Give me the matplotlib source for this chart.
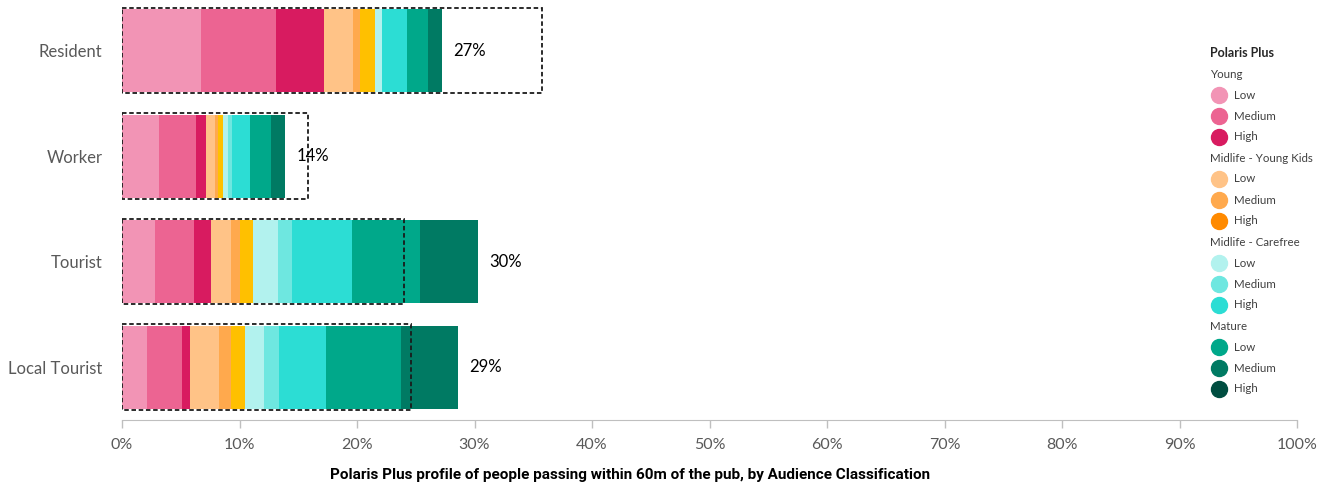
import matplotlib.pyplot as plt
import numpy as np
from matplotlib.lines import Line2D
from matplotlib.patches import Rectangle

plt.rcParams['font.family'] = ['Lato', 'DejaVu Sans']

categories = ["Resident", "Worker", "Tourist", "Local Tourist"]
groups = ["Young", "Midlife - Young Kids", "Midlife - Carefree", "Mature"]
levels = ["Low", "Medium", "High"]

# share of people (%) in each Polaris Plus segment, per audience
young_low = [6.70, 3.15, 2.81, 2.10]
young_med = [6.41, 3.15, 3.32, 3.01]
young_high = [4.12, 0.87, 1.47, 0.68]
kids_low = [2.46, 0.72, 1.68, 2.44]
kids_med = [0.59, 0.26, 0.76, 1.02]
kids_high = [1.25, 0.45, 1.08, 1.24]
free_low = [0.62, 0.45, 2.13, 1.60]
free_med = [0.00, 0.31, 1.24, 1.27]
free_high = [2.13, 1.53, 5.11, 4.00]
mature_low = [1.79, 1.79, 5.76, 6.38]
mature_med = [1.19, 1.22, 4.96, 4.88]
mature_high = [0.0, 0.0, 0.0, 0.0]
# dashed outline (comparison value, %)
benchmark = [35.72, 15.86, 24.03, 24.60]

series = [young_low, young_med, young_high, kids_low, kids_med, kids_high,
          free_low, free_med, free_high, mature_low, mature_med, mature_high]
bar_colors = ["#F294B5", "#EC6492", "#D81B60", "#FFC387", "#FFA94D", "#FFC000",
              "#B2F2EE", "#6EE7E0", "#2CDDD4", "#00A88A", "#007A63", "#004D40"]
legend_colors = ["#F294B5", "#EC6492", "#D81B60", "#FFC387", "#FFA94D", "#FF8A00",
                 "#B2F2EE", "#6EE7E0", "#2CDDD4", "#00A88A", "#007A63", "#004D40"]

W, H = 1335, 486
fig = plt.figure(figsize=(W / 100, H / 100), dpi=100)
ax = fig.add_axes([122 / W, 1 - 420 / H, 1175 / W, 420 / H])

y = np.arange(len(categories))
left = np.zeros(len(categories))
for vals, col in zip(series, bar_colors):
    ax.barh(y, vals, left=left, height=0.787, color=col, edgecolor='none')
    left += np.array(vals)

for i, b in enumerate(benchmark):
    ax.add_patch(Rectangle((0, i - 0.405), b, 0.81, fill=False, edgecolor='#1a1a1a',
                           linestyle=(0, (2.5, 1.5)), linewidth=1.3, zorder=5))

for i, tot in enumerate(left):
    ax.text(tot + 0.95, i, f"{round(tot)}%", va='center', ha='left', fontsize=12, color='black', zorder=6)

ax.set_xlim(0, 100)
ax.set_ylim(3.5, -0.479)
ax.set_xticks(np.arange(0, 101, 10))
ax.set_xticklabels([f"{v}%" for v in range(0, 101, 10)])
ax.set_yticks(y)
ax.set_yticklabels(categories)
ax.tick_params(axis='x', colors='#BFBFBF', length=6, width=1, labelcolor='#595959', labelsize=11.5, pad=7)
ax.tick_params(axis='y', length=0, labelcolor='#595959', labelsize=12, pad=14)
for s in ['top', 'right', 'left']:
    ax.spines[s].set_visible(False)
ax.spines['bottom'].set_color('#BFBFBF')

fig.text(630 / W, 1 - 475 / H,
         "Polaris Plus profile of people passing within 60m of the pub, by Audience Classification",
         ha='center', va='center', fontsize=11, fontweight='bold', color='black',
         family=['Liberation Sans Narrow', 'Roboto', 'DejaVu Sans'])

# legend
def fy(py):
    return 1 - py / H

fig.text(1210 / W, fy(53), "Polaris Plus", fontsize=9, fontweight='bold', color='#262626', va='center')
row = 1
k = 0
for g in groups:
    fig.text(1210 / W, fy(53 + 21 * row), g, fontsize=8.3, color='#404040', va='center')
    row += 1
    for lv in levels:
        py = 53 + 21 * row
        fig.add_artist(Line2D([1219 / W], [fy(py)], marker='o', markersize=11.5, color=legend_colors[k],
                              linestyle='none', transform=fig.transFigure))
        fig.text(1234 / W, fy(py), lv, fontsize=8.3, color='#404040', va='center')
        row += 1
        k += 1

fig.savefig("out.png", dpi=100)
